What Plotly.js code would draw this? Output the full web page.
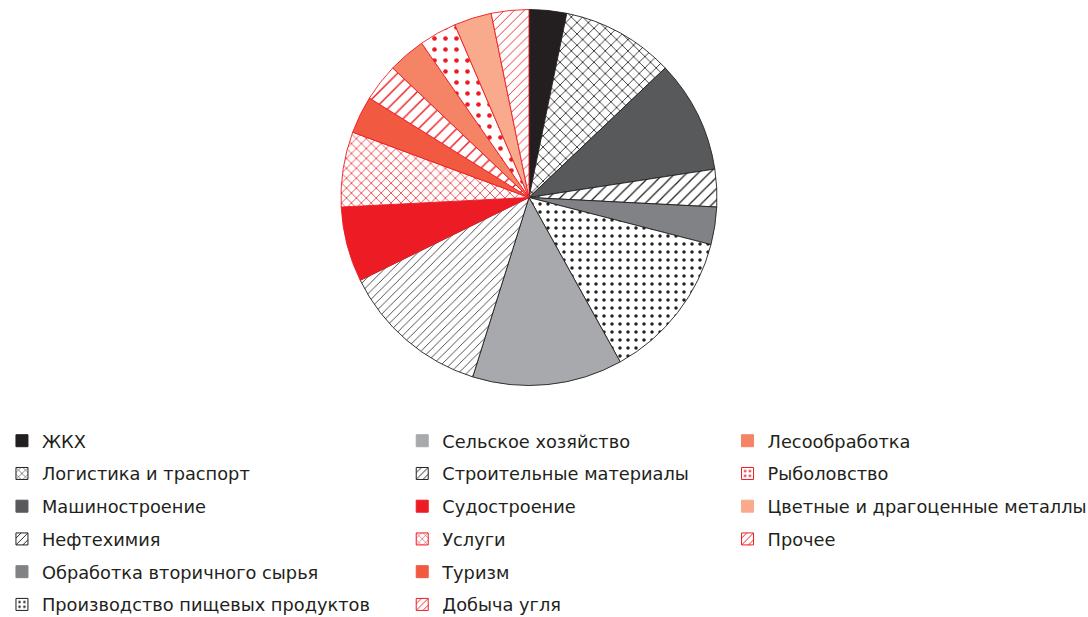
<!DOCTYPE html>
<html>
<head>
<meta charset="utf-8">
<script src="https://cdn.plot.ly/plotly-3.0.1.min.js"></script>
<style>html,body{margin:0;padding:0;background:#fff}#chart{width:1088px;height:617px}</style>
</head>
<body>
<div id="chart"></div>
<script>
const labels = [
  "ЖКХ", "Логистика и траспорт", "Машиностроение", "Нефтехимия",
  "Обработка вторичного сырья", "Производство пищевых продуктов",
  "Сельское хозяйство", "Строительные материалы", "Судостроение",
  "Услуги", "Туризм", "Добыча угля", "Лесообработка", "Рыболовство",
  "Цветные и драгоценные металлы", "Прочее"
];
const values = [3, 9, 9, 3, 3, 12, 12, 12, 6, 6, 3, 3, 3, 3, 3, 3];
const fillColors = ["#231f20", "#ffffff", "#58595b", "#ffffff", "#808285", "#ffffff",
  "#a7a9ac", "#ffffff", "#ed1c24", "#ffffff", "#f15a40", "#ffffff",
  "#f58466", "#ffffff", "#f9aa8d", "#ffffff"];
const patternShapes = ["", "x", "", "/", "", ".", "", "/", "", "x", "", "/", "", ".", "", "/"];
const patternColors = ["#231f20", "#231f20", "#58595b", "#231f20", "#808285", "#231f20",
  "#a7a9ac", "#231f20", "#ed1c24", "#ed1c24", "#f15a40", "#ed1c24",
  "#f58466", "#ed1c24", "#f9aa8d", "#ed1c24"];
const lineColors = ["#231f20", "#231f20", "#231f20", "#231f20", "#231f20", "#231f20",
  "#231f20", "#231f20", "#ed1c24", "#ed1c24", "#ed1c24", "#ed1c24",
  "#ed1c24", "#ed1c24", "#ed1c24", "#ed1c24"];
const patternSizes = [8, 8, 8, 8, 8, 8, 8, 6, 8, 7, 8, 9, 8, 11, 8, 7];
const patternSolidity = [0.3, 0.2, 0.3, 0.16, 0.3, 0.15, 0.3, 0.13, 0.3, 0.2, 0.3, 0.16, 0.3, 0.14, 0.3, 0.13];
const legendColumn = ["legend","legend","legend","legend","legend","legend",
  "legend2","legend2","legend2","legend2","legend2","legend2",
  "legend3","legend3","legend3","legend3"];

const traces = [{
  type: "pie",
  labels: labels,
  values: values,
  sort: false,
  direction: "clockwise",
  rotation: 0,
  textinfo: "none",
  hoverinfo: "label+percent",
  showlegend: false,
  domain: {x: [0.3134, 0.659], y: [0.3752, 0.9846]},
  marker: {
    colors: fillColors,
    line: {color: lineColors, width: 0.9},
    pattern: {
      shape: patternShapes,
      fgcolor: patternColors,
      bgcolor: fillColors,
      size: patternSizes,
      solidity: patternSolidity,
      fillmode: "replace"
    }
  }
}];

labels.forEach((lab, i) => {
  const hasPattern = patternShapes[i] !== "";
  traces.push({
    type: "bar",
    x: [0], y: [0],
    name: lab,
    legend: legendColumn[i],
    legendgroup: "g" + i,
    showlegend: true,
    hoverinfo: "skip",
    xaxis: "x", yaxis: "y",
    marker: {
      color: hasPattern ? "#ffffff" : fillColors[i],
      line: {color: hasPattern ? patternColors[i] : fillColors[i], width: 1},
      pattern: hasPattern ? {shape: patternShapes[i], fgcolor: patternColors[i], bgcolor: "#ffffff",
        size: 6, solidity: 0.2, fillmode: "replace"} : undefined
    }
  });
});

const legendBase = {
  orientation: "v",
  yanchor: "top",
  xanchor: "left",
  traceorder: "grouped",
  tracegroupgap: 6.6,
  bgcolor: "rgba(0,0,0,0)",
  font: {family: "DejaVu Sans", size: 17.8, color: "#231f20"}
};

const layout = {
  width: 1088, height: 617,
  margin: {l: 0, r: 0, t: 0, b: 0, autoexpand: false},
  paper_bgcolor: "#ffffff",
  plot_bgcolor: "rgba(0,0,0,0)",
  showlegend: true,
  xaxis: {visible: false, domain: [0.99, 1], range: [1, 2], fixedrange: true},
  yaxis: {visible: false, domain: [0.99, 1], range: [1, 2], fixedrange: true},
  legend: Object.assign({}, legendBase, {x: 0.0018, y: 0.315}),
  legend2: Object.assign({}, legendBase, {x: 0.3697, y: 0.315}),
  legend3: Object.assign({}, legendBase, {x: 0.6687, y: 0.315})
};

Plotly.newPlot("chart", traces, layout, {displayModeBar: false, staticPlot: true});
</script>
</body>
</html>
